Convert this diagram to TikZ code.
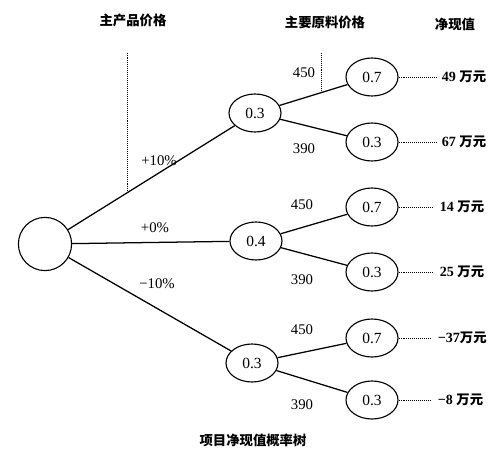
\documentclass[tikz,border=0pt]{standalone}
\usepackage{fontspec}
\setmainfont{Liberation Serif}
\newfontfamily\cjk{Noto Sans CJK SC}
\usepackage{tikz}
\usetikzlibrary{positioning,calc,shapes.geometric}
\tikzset{
  rootnode/.style={circle, draw, line width=0.8pt, minimum size=1.33cm, inner sep=0pt},
  chance/.style={ellipse, draw, line width=0.8pt, minimum width=1.3cm, minimum height=0.95cm, inner sep=0pt, font=\fontsize{11}{12}\selectfont},
  branch/.style={line width=0.9pt},
  leader/.style={densely dotted, line width=0.4pt},
  guide/.style={densely dotted, line width=0.4pt},
  head/.style={inner sep=1pt, font=\cjk\bfseries\fontsize{9.5}{11}\selectfont},
  rate/.style={inner sep=1pt, font=\fontsize{10.5}{12}\selectfont},
  npv/.style={anchor=west, inner xsep=4pt, inner ysep=0pt, font=\bfseries\fontsize{10}{12}\selectfont}
}
\newcommand{\zh}[1]{{\cjk\bfseries\fontsize{9.5}{11}\selectfont #1}}

\begin{document}
\begin{tikzpicture}[x=0.025cm, y=-0.025cm]
      \useasboundingbox (0,0) rectangle (497,452);
      \node[head] (hprod) at (133,20) {主产品价格};
      \node[head] (hraw) at (325,22) {主要原料价格};
      \node[head] (hnpv) at (455,24) {净现值};
      % decision tree
      \node[rootnode] (r) at (45,244) {};
      \node[chance] (up) at (255,113) {0.3};
      \node[chance] (mid) at (256,241) {0.4};
      \node[chance] (dn) at (252,363) {0.3};
      \node[chance] (up1) at (372,77) {0.7};
      \node[chance] (up2) at (372,142) {0.3};
      \node[chance] (mid1) at (372,207) {0.7};
      \node[chance] (mid2) at (372,272) {0.3};
      \node[chance] (dn1) at (372,338) {0.7};
      \node[chance] (dn2) at (372,400) {0.3};
      \draw[branch] (r) -- (up); \draw[branch] (r) -- (mid); \draw[branch] (r) -- (dn);
      \draw[branch] (up) -- (up1); \draw[branch] (up) -- (up2);
      \draw[branch] (mid) -- (mid1); \draw[branch] (mid) -- (mid2);
      \draw[branch] (dn) -- (dn1); \draw[branch] (dn) -- (dn2);
      \coordinate (g1) at ($(r)!0.39!(up)$);
      \coordinate (g2) at ($(up)!0.564!(up1)$);
      \draw[guide] (g1) -- (g1 |- 0,52); \draw[guide] (g2) -- (g2 |- 0,52);
      \node[rate] (p1) at (159,161) {+10\%};
      \node[rate] (p2) at (155,228) {+0\%};
      \node[rate] (p3) at (157,284) {−10\%};
      \node[rate] (c1) at (304,73) {450};
      \node[rate] (c2) at (304,149) {390};
      \node[rate] (c3) at (302,205) {450};
      \node[rate] (c4) at (302,280) {390};
      \node[rate] (c5) at (302,330) {450};
      \node[rate] (c6) at (302,405) {390};
      % net present values
      \node[npv] (v1) at (436,77) {49 \zh{万元}};
      \node[npv] (v2) at (436,142) {67 \zh{万元}};
      \node[npv] (v3) at (434,207) {14 \zh{万元}};
      \node[npv] (v4) at (434,272) {25 \zh{万元}};
      \node[npv] (v5) at (432,338) {−37\zh{万元}};
      \node[npv] (v6) at (432,400) {−8 \zh{万元}};
      \draw[leader] (up1.east) -- (v1.west); \draw[leader] (up2.east) -- (v2.west);
      \draw[leader] (mid1.east) -- (v3.west); \draw[leader] (mid2.east) -- (v4.west);
      \draw[leader] (dn1.east) -- (v5.west); \draw[leader] (dn2.east) -- (v6.west);
      \node[head] (cap) at (253,440) {项目净现值概率树};
    \end{tikzpicture}
\end{document}
